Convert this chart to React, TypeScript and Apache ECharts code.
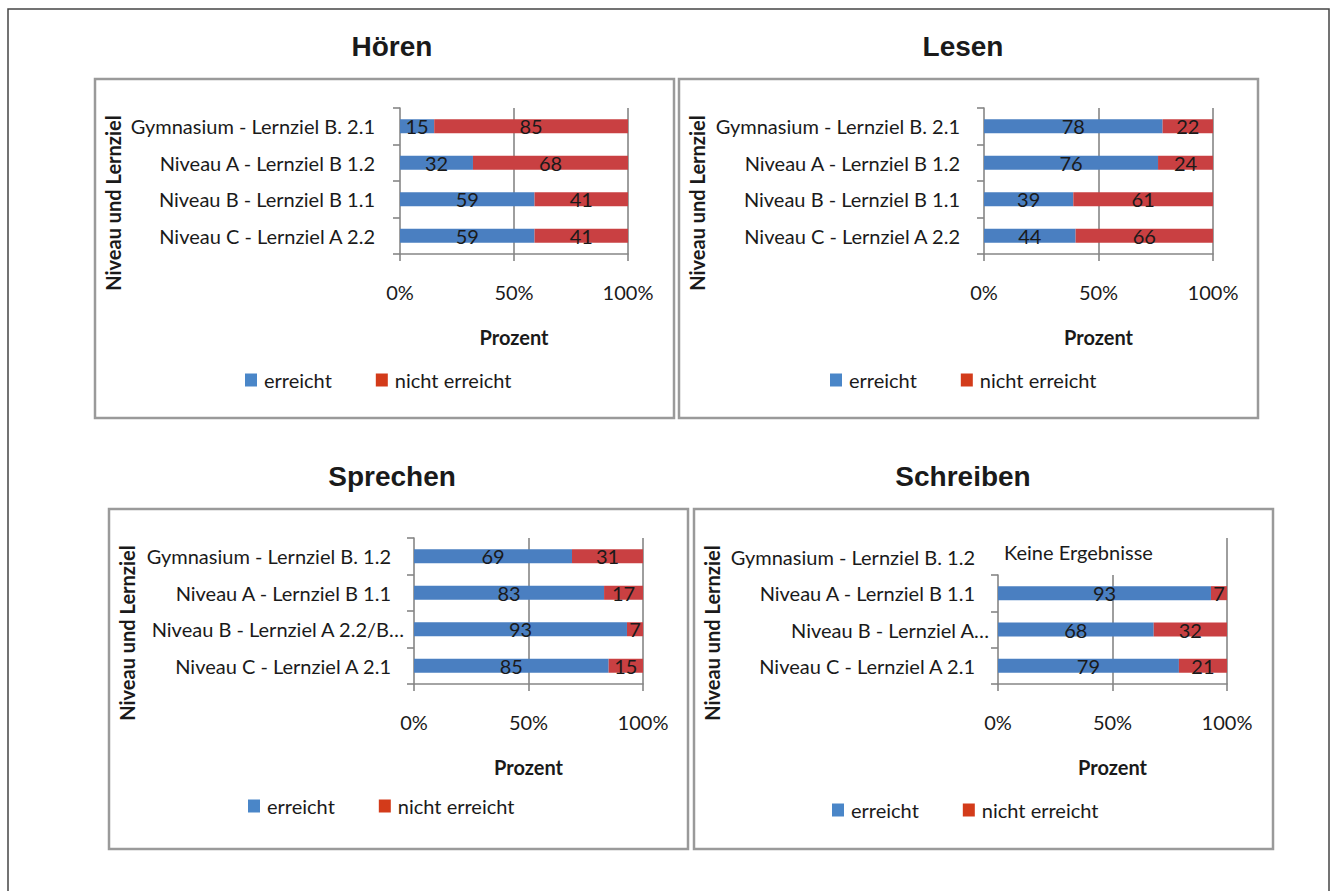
import React, { useEffect, useRef } from "react";
import * as echarts from "echarts";

// ---------- data ----------
const SERIES_NAMES = ["erreicht", "nicht erreicht"];
const PANEL_TITLES = ["Hören", "Lesen", "Sprechen", "Schreiben"];
const X_AXIS_NAME = "Prozent";
const Y_AXIS_NAME = "Niveau und Lernziel";

const hoerenCategories = [
  "Gymnasium - Lernziel B. 2.1",
  "Niveau A - Lernziel B 1.2",
  "Niveau B - Lernziel B 1.1",
  "Niveau C - Lernziel A 2.2",
];
const hoerenErreicht = [15, 32, 59, 59];
const hoerenNichtErreicht = [85, 68, 41, 41];

const lesenCategories = [
  "Gymnasium - Lernziel B. 2.1",
  "Niveau A - Lernziel B 1.2",
  "Niveau B - Lernziel B 1.1",
  "Niveau C - Lernziel A 2.2",
];
const lesenErreicht = [78, 76, 39, 44];
const lesenNichtErreicht = [22, 24, 61, 66];

const sprechenCategories = [
  "Gymnasium - Lernziel B. 1.2",
  "Niveau A - Lernziel B 1.1",
  "Niveau B - Lernziel A 2.2/B…",
  "Niveau C - Lernziel A 2.1",
];
const sprechenErreicht = [69, 83, 93, 85];
const sprechenNichtErreicht = [31, 17, 7, 15];

const schreibenNoResultCategory = ["Gymnasium - Lernziel B. 1.2"];
const schreibenNoResultText = "Keine Ergebnisse";
const schreibenCategories = [
  "Niveau A - Lernziel B 1.1",
  "Niveau B - Lernziel A…",
  "Niveau C - Lernziel A 2.1",
];
const schreibenErreicht = [93, 68, 79];
const schreibenNichtErreicht = [7, 32, 21];

// ---------- styles ----------
const BAR_BLUE = "#4a7fc1";
const BAR_RED = "#c94042";
const LEGEND_BLUE = "#4a86c8";
const LEGEND_RED = "#d33b1a";
const AXIS_GRAY = "#868686";
const BORDER_GRAY = "#9a9a9a";
const TEXT = "#1a1a1a";
const FONT = "Lato";
const FS = 20;

type Panel = {
  title: string;
  titleX: number;
  grid: { left: number; top: number; width: number; height: number };
  cats: string[];
  a: number[];
  b: number[];
  labelMargin: number;
  truncatedPad?: number;
  border: [number, number, number, number];
  yNameX: number;
  yNameY: number;
  legendLeft: number;
  legendTop: number;
};

const panels: Panel[] = [
  {
    title: PANEL_TITLES[0], titleX: 392,
    grid: { left: 400, top: 108, width: 228, height: 146 },
    cats: hoerenCategories, a: hoerenErreicht, b: hoerenNichtErreicht,
    labelMargin: 25, border: [95, 79, 579, 339], yNameX: 113, yNameY: 203,
    legendLeft: 245, legendTop: 370,
  },
  {
    title: PANEL_TITLES[1], titleX: 963,
    grid: { left: 984, top: 108, width: 229, height: 146 },
    cats: lesenCategories, a: lesenErreicht, b: lesenNichtErreicht,
    labelMargin: 24, border: [679, 79, 579, 339], yNameX: 697, yNameY: 203,
    legendLeft: 830, legendTop: 370,
  },
  {
    title: PANEL_TITLES[2], titleX: 392,
    grid: { left: 414, top: 538, width: 229, height: 146 },
    cats: sprechenCategories, a: sprechenErreicht, b: sprechenNichtErreicht,
    labelMargin: 10, truncatedPad: 13, border: [109, 509, 579, 340], yNameX: 127, yNameY: 633,
    legendLeft: 248, legendTop: 796,
  },
  {
    title: PANEL_TITLES[3], titleX: 963,
    grid: { left: 998, top: 575, width: 229, height: 109 },
    cats: schreibenCategories, a: schreibenErreicht, b: schreibenNichtErreicht,
    labelMargin: 9, truncatedPad: 14, border: [694, 509, 579, 340], yNameX: 712, yNameY: 633,
    legendLeft: 832, legendTop: 800,
  },
];

const lineStyle = { color: AXIS_GRAY, width: 1.6 };
const textStyle = { fontFamily: FONT, fontSize: FS, color: TEXT };

function buildOption() {
  const grids: any[] = [];
  const xAxes: any[] = [];
  const yAxes: any[] = [];
  const series: any[] = [];
  const titles: any[] = [];
  const legends: any[] = [];
  const graphics: any[] = [];

  // outer frame
  graphics.push({
    type: "rect",
    shape: { x: 8, y: 9, width: 1321, height: 900 },
    style: { fill: "none", stroke: "#454545", lineWidth: 1.5 },
    silent: true,
  });

  panels.forEach((p, i) => {
    grids.push({ ...p.grid, containLabel: false });
    titles.push({
      text: p.title,
      left: p.titleX,
      top: i < 2 ? 32 : 462,
      textAlign: "center",
      padding: 0,
      textStyle: { fontFamily: "Liberation Sans", fontWeight: "bold", fontSize: 28, color: TEXT },
    });
    xAxes.push({
      gridIndex: i,
      type: "value",
      min: 0,
      max: 100,
      interval: 50,
      axisLine: { show: true, lineStyle },
      axisTick: { show: true, length: 7, lineStyle },
      axisLabel: { formatter: "{value}%", margin: 28, ...textStyle },
      splitLine: { show: true, showMinLine: false, lineStyle },
      name: X_AXIS_NAME,
      nameLocation: "middle",
      nameGap: 73,
      nameTextStyle: { ...textStyle, fontWeight: "bold" },
    });
    const truncPad = p.truncatedPad || 0;
    yAxes.push({
      gridIndex: i,
      type: "category",
      inverse: true,
      data: p.cats,
      axisLine: { show: true, lineStyle },
      axisTick: { show: true, length: 7, lineStyle },
      splitLine: { show: false },
      axisLabel: {
        margin: p.labelMargin,
        ...textStyle,
        formatter: (v: string) =>
          truncPad && !v.endsWith("…") ? `{n|${v}}` : `{t|${v}}`,
        rich: {
          n: { ...textStyle, padding: [0, truncPad, 0, 0] },
          t: { ...textStyle },
        },
      },
    });
    const totals = p.a.map((v, k) => v + p.b[k]);
    [p.a, p.b].forEach((vals, s) => {
      series.push({
        type: "bar",
        name: SERIES_NAMES[s],
        xAxisIndex: i,
        yAxisIndex: i,
        stack: "panel" + i,
        barWidth: 14,
        itemStyle: { color: s === 0 ? BAR_BLUE : BAR_RED },
        label: {
          show: true,
          position: "inside",
          ...textStyle,
          formatter: (prm: any) => String(vals[prm.dataIndex]),
        },
        data: vals.map((v, k) => (v / totals[k]) * 100),
      });
    });
    legends.push({
      data: [
        { name: SERIES_NAMES[0], itemStyle: { color: LEGEND_BLUE } },
        { name: SERIES_NAMES[1], itemStyle: { color: LEGEND_RED } },
      ],
      left: p.legendLeft,
      top: p.legendTop,
      padding: 0,
      icon: "rect",
      itemWidth: 12,
      itemHeight: 13,
      itemGap: 44,
      textStyle: { ...textStyle, padding: [0, 0, 0, 2] },
      selectedMode: false,
    });
    graphics.push({
      type: "rect",
      shape: { x: p.border[0], y: p.border[1], width: p.border[2], height: p.border[3] },
      style: { fill: "none", stroke: BORDER_GRAY, lineWidth: 2.5 },
      silent: true,
    });
    graphics.push({
      type: "text",
      x: p.yNameX,
      y: p.yNameY,
      rotation: Math.PI / 2,
      style: {
        text: Y_AXIS_NAME,
        font: `bold ${FS}px ${FONT}`,
        fill: TEXT,
        align: "center",
        verticalAlign: "middle",
        textAlign: "center",
        textVerticalAlign: "middle",
      },
      silent: true,
    });
  });

  // Schreiben: row without results above the plotted rows
  const gi = panels.length;
  grids.push({ left: 998, top: 538, width: 229, height: 37 });
  xAxes.push({
    gridIndex: gi,
    type: "value",
    min: 0,
    max: 100,
    interval: 100,
    axisLine: { show: false },
    axisTick: { show: false },
    axisLabel: { show: false },
    splitLine: { show: true, showMinLine: false, lineStyle },
  });
  yAxes.push({
    gridIndex: gi,
    type: "category",
    inverse: true,
    data: schreibenNoResultCategory,
    axisLine: { show: false },
    axisTick: { show: false },
    axisLabel: { margin: 23, ...textStyle },
  });
  graphics.push({
    type: "text",
    x: 1004,
    y: 552,
    style: {
      text: schreibenNoResultText,
      font: `${FS}px ${FONT}`,
      fill: TEXT,
      align: "left",
      verticalAlign: "middle",
      textAlign: "left",
      textVerticalAlign: "middle",
    },
    silent: true,
  });

  return {
    animation: false,
    title: titles,
    legend: legends,
    grid: grids,
    xAxis: xAxes,
    yAxis: yAxes,
    series,
    graphic: graphics,
  };
}

export default function App() {
  const ref = useRef<HTMLDivElement>(null);
  useEffect(() => {
    if (!ref.current) return;
    const chart = echarts.init(ref.current, undefined, { renderer: "svg" });
    chart.setOption(buildOption() as any);
    return () => chart.dispose();
  }, []);
  return (
    <div
      ref={ref}
      style={{ position: "fixed", left: 0, top: 0, width: 1333, height: 891, background: "#fff" }}
    />
  );
}
